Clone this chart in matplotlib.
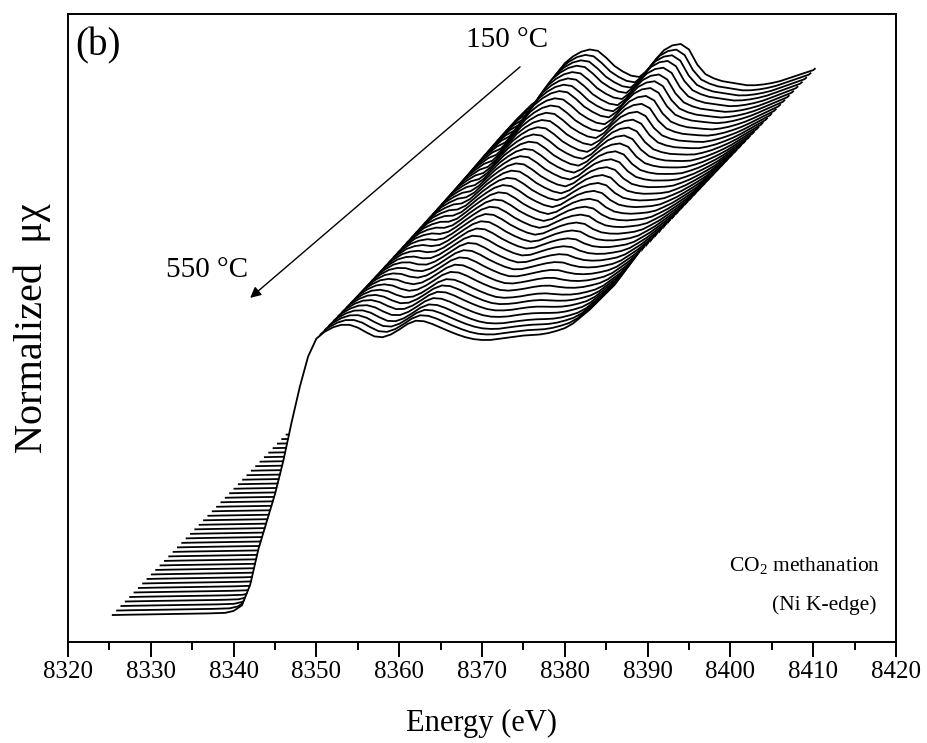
import numpy as np
import matplotlib
matplotlib.use("Agg")
import matplotlib.pyplot as plt

plt.rcParams['font.family'] = ['Liberation Serif', 'DejaVu Serif']
plt.rcParams['mathtext.fontset'] = 'custom'
plt.rcParams['mathtext.rm'] = 'Liberation Serif'
plt.rcParams['mathtext.it'] = 'Liberation Serif:italic'

# Energy grid of the scans (eV)
energy = [8325.4, 8327, 8329, 8331, 8333, 8335, 8337, 8339, 8340, 8341,
          8342, 8343, 8344, 8345, 8346, 8347, 8348, 8349, 8350, 8351,
          8352, 8353, 8354, 8355, 8356, 8357, 8358, 8359, 8360, 8361,
          8362, 8363, 8364, 8365, 8366, 8367, 8368, 8369, 8370, 8371,
          8372, 8373, 8374, 8375, 8376, 8377, 8378, 8379, 8380, 8381,
          8382, 8383, 8384, 8385, 8386, 8387, 8388, 8389, 8389.2]

# Normalized absorption, reduced state (550 °C)
mu_550 = [0.000, 0.001, 0.002, 0.003, 0.004, 0.005, 0.006, 0.008, 0.015, 0.035,
          0.110, 0.240, 0.340, 0.440, 0.560, 0.700, 0.830, 0.940, 1.005, 1.030,
          1.046, 1.055, 1.055, 1.045, 1.028, 1.013, 1.010, 1.020, 1.038, 1.058,
          1.070, 1.068, 1.058, 1.045, 1.032, 1.020, 1.010, 1.003, 1.000, 1.000,
          1.004, 1.008, 1.012, 1.016, 1.018, 1.020, 1.025, 1.033, 1.043, 1.060,
          1.085, 1.110, 1.140, 1.170, 1.200, 1.240, 1.280, 1.320, 1.330]

# Normalized absorption, oxidized state (150 °C)
mu_150 = [0.000, 0.001, 0.002, 0.003, 0.004, 0.005, 0.006, 0.008, 0.015, 0.035,
          0.110, 0.240, 0.340, 0.440, 0.560, 0.700, 0.820, 0.930, 1.000, 1.060,
          1.100, 1.140, 1.170, 1.200, 1.220, 1.260, 1.310, 1.350, 1.375, 1.392,
          1.400, 1.395, 1.370, 1.340, 1.320, 1.305, 1.300, 1.325, 1.365, 1.398,
          1.415, 1.420, 1.400, 1.345, 1.310, 1.295, 1.285, 1.280, 1.275, 1.270,
          1.270, 1.273, 1.278, 1.285, 1.295, 1.305, 1.315, 1.325, 1.330]

# Temperatures of the series and the oxidized-phase fraction at each one
temperature = [150, 160, 170, 180, 190, 200, 210, 220, 230, 240,
               250, 260, 270, 280, 290, 300, 310, 320, 330, 340,
               350, 360, 370, 380, 390, 400, 410, 420, 430, 440,
               450, 460, 470, 480, 490, 500, 510, 520, 530, 540, 550]
oxide_fraction = [1.00, 0.99, 0.98, 0.97, 0.95, 0.93, 0.91, 0.89, 0.86, 0.83,
                  0.80, 0.77, 0.74, 0.71, 0.68, 0.65, 0.62, 0.59, 0.56, 0.53,
                  0.50, 0.47, 0.44, 0.41, 0.38, 0.35, 0.32, 0.29, 0.26, 0.23,
                  0.20, 0.17, 0.14, 0.11, 0.09, 0.07, 0.05, 0.03, 0.02, 0.01, 0.00]

# Waterfall offsets per scan
x_step = 0.525
y_step = 0.0164

fig = plt.figure(figsize=(9.28, 7.43), dpi=100)
ax = fig.add_axes([68/928, 1 - 642/743, (896-68)/928, (642-14)/743])
ax.set_xlim(8320, 8420)
ax.set_ylim(-0.098, 2.185)

e = np.array(energy)
a = np.array(mu_550)
b = np.array(mu_150)
n = len(temperature)
# draw from the back (150 °C) to the front (550 °C), hiding lines behind
for k in range(n):
    depth = n - 1 - k              # 0 = front scan (550 °C)
    f = oxide_fraction[k]
    mu = f * b + (1 - f) * a
    x = e + depth * x_step
    y = mu + depth * y_step
    z = 10 + 2 * k
    ax.fill_between(x, y, -0.06, color='white', lw=0, zorder=z)
    ax.plot(x, y, color='black', lw=1.3, zorder=z + 1, solid_joinstyle='round')

ax.set_xticks(np.arange(8320, 8421, 10))
ax.set_xticks(np.arange(8325, 8420, 10), minor=True)
ax.set_yticks([])
ax.tick_params(axis='x', which='major', direction='out', length=11, width=1.4,
               labelsize=18, pad=3)
ax.tick_params(axis='x', which='minor', direction='out', length=6, width=1.4)
for s in ax.spines.values():
    s.set_linewidth(1.4)

ax.set_xlabel('Energy (eV)', fontsize=22, labelpad=18)
ax.set_ylabel('Normalized  μχ', fontsize=29, labelpad=12)

top = 500
ax.text(8320.9, 2.07, '(b)', fontsize=28, ha='left', va='center', zorder=top)
ax.text(8373.0, 2.09, '150 °C', fontsize=21, ha='center', va='center', zorder=top)
ax.text(8336.8, 1.255, '550 °C', fontsize=21, ha='center', va='center', zorder=top)
ax.annotate('', xy=(8342.0, 1.153), xytext=(8374.6, 1.993),
            arrowprops=dict(arrowstyle='-|>', color='black', lw=1.0,
                            mutation_scale=16, shrinkA=0, shrinkB=0),
            zorder=top)
ax.text(8418.1, 0.18, 'CO$_2$ methanation', fontsize=15.5, ha='right', va='center',
        zorder=top)
ax.text(8417.6, 0.036, '(Ni K-edge)', fontsize=15.5, ha='right', va='center',
        zorder=top)

fig.savefig('out.png', dpi=100)
